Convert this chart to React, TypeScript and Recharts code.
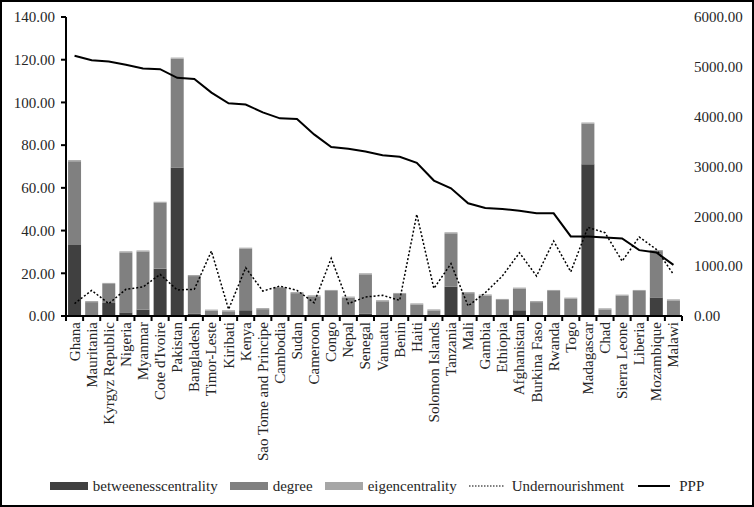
import React from 'react';
import { ComposedChart, Bar, Line, XAxis, YAxis, Legend } from 'recharts';

const countries = [
  'Ghana', 'Mauritania', 'Kyrgyz Republic', 'Nigeria', 'Myanmar', "Cote d'Ivoire", 'Pakistan',
  'Bangladesh', 'Timor-Leste', 'Kiribati', 'Kenya', 'Sao Tome and Principe', 'Cambodia', 'Sudan',
  'Cameroon', 'Congo', 'Nepal', 'Senegal', 'Vanuatu', 'Benin', 'Haiti', 'Solomon Islands',
  'Tanzania', 'Mali', 'Gambia', 'Ethiopia', 'Afghanistan', 'Burkina Faso', 'Rwanda', 'Togo',
  'Madagascar', 'Chad', 'Sierra Leone', 'Liberia', 'Mozambique', 'Malawi',
];

const betweenness = [
  33.2, 0, 6.1, 1.7, 3.0, 22.2, 69.5, 1.0, 0, 0, 2.7, 0, 0, 0, 0, 0, 0, 1.0,
  0, 0, 0, 0, 13.7, 0, 0, 0, 2.7, 0, 0, 0, 71.0, 0, 0, 0, 8.7, 0,
];

const degree = [
  39.3, 6.5, 8.9, 28.1, 27.2, 30.8, 51.0, 17.7, 2.5, 2.2, 28.8, 3.2, 13.1, 10.7, 9.2, 11.7, 8.6, 18.5,
  6.9, 10.3, 5.4, 2.6, 25.0, 10.7, 9.6, 7.5, 10.1, 6.5, 11.7, 8.1, 19.1, 3.1, 9.5, 11.7, 21.7, 7.3,
];

const eigen = [
  0.5, 0.5, 0.5, 0.5, 0.5, 0.5, 0.5, 0.5, 0.5, 0.5, 0.5, 0.5, 0.5, 0.5, 0.5, 0.5, 0.5, 0.5,
  0.5, 0.5, 0.5, 0.5, 0.5, 0.5, 0.5, 0.5, 0.5, 0.5, 0.5, 0.5, 0.5, 0.5, 0.5, 0.5, 0.5, 0.5,
];

const undernourishment = [
  5.8, 12.0, 5.8, 12.5, 13.6, 19.5, 12.2, 12.5, 30.4, 3.1, 22.6, 11.7, 14.0, 12.0, 6.2, 27.0, 5.8, 8.9,
  9.7, 7.3, 47.6, 12.9, 24.5, 4.7, 10.9, 18.7, 29.6, 18.7, 35.1, 20.7, 41.5, 39.0, 25.7, 37.0, 31.2, 19.5,
];

const ppp = [
  5221, 5134, 5107, 5040, 4966, 4953, 4779, 4758, 4483, 4268, 4242, 4087, 3966, 3953, 3644, 3389, 3356, 3302,
  3228, 3195, 3074, 2718, 2564, 2261, 2168, 2148, 2114, 2060, 2060, 1597, 1597, 1577, 1557, 1322, 1275, 1027,
];

const leftTicks = [0, 20, 40, 60, 80, 100, 120, 140];
const rightTicks = [0, 1000, 2000, 3000, 4000, 5000, 6000];

const data = countries.map((name, i) => ({
  name,
  betweenesscentrality: betweenness[i],
  degree: degree[i],
  eigencentrality: eigen[i],
  Undernourishment: undernourishment[i],
  PPP: ppp[i],
}));

const FONT = '"Liberation Serif", "Times New Roman", serif';
const TEXT = '#262626';

// category labels rotated, tick marks sit between the bands
const CategoryTick = (props: any) => {
  const { x, y, payload, index } = props;
  const half = payload && payload.offset ? payload.offset : 8.55;
  const top = y - 6;
  return (
    <g>
      <line x1={x - half} x2={x - half} y1={top} y2={top + 5} stroke="#000" strokeWidth={2} />
      {index === countries.length - 1 && (
        <line x1={x + half} x2={x + half} y1={top} y2={top + 5} stroke="#000" strokeWidth={2} />
      )}
      <text
        x={x + 5}
        y={y}
        transform={`rotate(-90, ${x + 5}, ${y})`}
        textAnchor="end"
        fontSize={15}
        fontFamily={FONT}
        fill={TEXT}
      >
        {payload.value}
      </text>
    </g>
  );
};

const legendItems = [
  { name: 'betweenesscentrality', type: 'rect', color: '#404040' },
  { name: 'degree', type: 'rect', color: '#808080' },
  { name: 'eigencentrality', type: 'rect', color: '#a6a6a6' },
  { name: 'Undernourishment', type: 'dot', color: '#000' },
  { name: 'PPP', type: 'line', color: '#000' },
];

const LegendContent = () => (
  <div
    style={{
      display: 'flex',
      justifyContent: 'center',
      alignItems: 'center',
      height: 20,
      fontFamily: FONT,
      fontSize: 15,
      color: TEXT,
    }}
  >
    {legendItems.map((item, i) => (
      <div
        key={item.name}
        style={{ display: 'flex', alignItems: 'center', marginRight: i === legendItems.length - 1 ? 0 : 12 }}
      >
        <svg width={38} height={10} style={{ marginRight: 5 }}>
          {item.type === 'rect' && <rect x={0} y={1} width={38} height={8} fill={item.color} />}
          {item.type === 'dot' && (
            <line x1={0} x2={36} y1={5} y2={5} stroke={item.color} strokeWidth={1.2} strokeDasharray="1.5 1.5" />
          )}
          {item.type === 'line' && <line x1={2} x2={34} y1={5} y2={5} stroke={item.color} strokeWidth={2} />}
        </svg>
        <span>{item.name}</span>
      </div>
    ))}
  </div>
);

export default function App() {
  return (
    <div style={{ position: 'absolute', left: 0, top: 0, width: 754, height: 507, background: '#fff' }}>
      <ComposedChart
        width={754}
        height={507}
        data={data}
        margin={{ top: 17, right: 0, bottom: 11, left: 0 }}
        barCategoryGap="12%"
      >
        <XAxis
          dataKey="name"
          interval={0}
          height={160}
          tickSize={5}
          tickMargin={1}
          tickLine={false}
          axisLine={{ stroke: '#000', strokeWidth: 2 }}
          tick={<CategoryTick />}
        />
        <YAxis
          yAxisId="left"
          width={66}
          domain={[0, 140]}
          ticks={leftTicks}
          tickFormatter={(v: number) => v.toFixed(2)}
          axisLine={{ stroke: '#000', strokeWidth: 2 }}
          tickLine={{ stroke: '#000', strokeWidth: 2 }}
          tickSize={5}
          tickMargin={6}
          tick={{ fontSize: 15, fontFamily: FONT, fill: TEXT }}
        />
        <YAxis
          yAxisId="right"
          orientation="right"
          width={72}
          domain={[0, 6000]}
          ticks={rightTicks}
          tickFormatter={(v: number) => v.toFixed(2)}
          axisLine={false}
          tickLine={false}
          tickSize={6}
          tickMargin={6}
          tick={{ fontSize: 15, fontFamily: FONT, fill: TEXT, textAnchor: 'start' }}
        />
        <Legend verticalAlign="bottom" content={<LegendContent />} />
        <Bar yAxisId="left" dataKey="betweenesscentrality" stackId="a" fill="#404040" isAnimationActive={false} />
        <Bar yAxisId="left" dataKey="degree" stackId="a" fill="#808080" isAnimationActive={false} />
        <Bar yAxisId="left" dataKey="eigencentrality" stackId="a" fill="#a6a6a6" isAnimationActive={false} />
        <Line
          yAxisId="left"
          dataKey="Undernourishment"
          stroke="#000"
          strokeWidth={1.5}
          strokeDasharray="2 2"
          dot={false}
          isAnimationActive={false}
        />
        <Line
          yAxisId="right"
          dataKey="PPP"
          stroke="#000"
          strokeWidth={2}
          dot={false}
          isAnimationActive={false}
        />
      </ComposedChart>
      <div
        style={{
          position: 'absolute',
          left: 0,
          top: 0,
          width: 754,
          height: 507,
          border: '2px solid #000',
          boxSizing: 'border-box',
          pointerEvents: 'none',
        }}
      />
    </div>
  );
}
